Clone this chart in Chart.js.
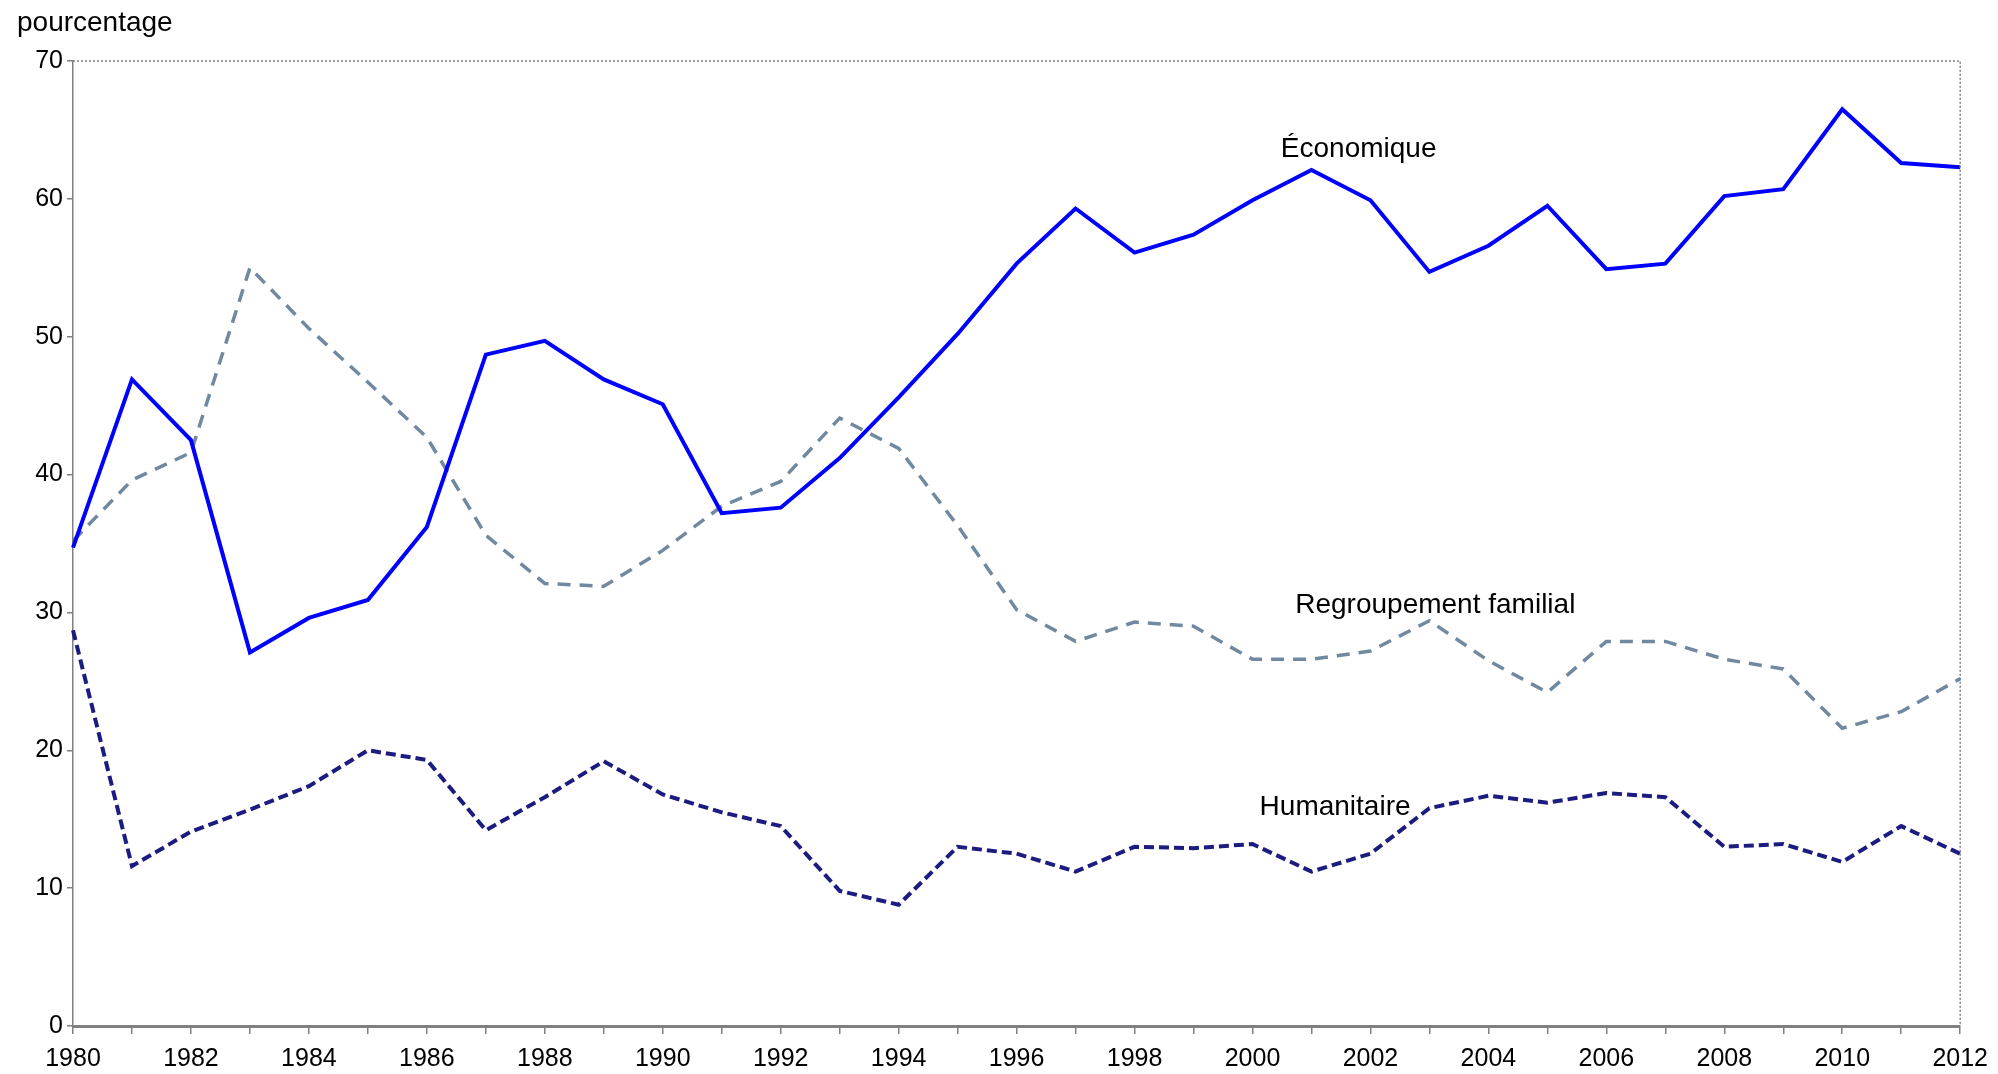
<!DOCTYPE html>
<html>
<head>
    <title>Immigration par catégorie</title>
    <script src="https://cdn.jsdelivr.net/npm/chart.js@4.4.1/dist/chart.umd.min.js"></script>
    <style>
        body { margin: 0; background: #fff; }
        #wrap { width: 1998px; height: 1074px; position: relative; }
    </style>
</head>
<body>
    <div id="wrap"><canvas id="immig-chart"></canvas></div>

    <script>
        // données
        var annees = [];
        for (var a = 1980; a <= 2012; a++) annees.push(String(a));

        var economique = [34.7, 46.9, 42.5, 27.1, 29.6, 30.9, 36.2, 48.7, 49.7, 46.9, 45.1,
            37.2, 37.6, 41.2, 45.6, 50.2, 55.3, 59.3, 56.1, 57.4, 59.9,
            62.1, 59.9, 54.7, 56.6, 59.5, 54.9, 55.3, 60.2, 60.7, 66.5, 62.6, 62.3];

        var regroupement = [35.2, 39.6, 41.6, 55.0, 50.6, 46.7, 42.7, 35.6, 32.1, 31.9, 34.5,
            37.7, 39.5, 44.1, 41.9, 36.3, 30.2, 27.9, 29.3, 29.0, 26.6,
            26.6, 27.2, 29.4, 26.5, 24.2, 27.9, 27.9, 26.6, 25.9, 21.6, 22.8, 25.2];

        var humanitaire = [28.7, 11.6, 14.1, 15.7, 17.4, 20.0, 19.3, 14.2, 16.6, 19.2, 16.8,
            15.5, 14.5, 9.8, 8.8, 13.0, 12.5, 11.2, 13.0, 12.9, 13.2,
            11.2, 12.5, 15.8, 16.7, 16.2, 16.9, 16.6, 13.0, 13.2, 11.9, 14.5, 12.5];

        // étiquettes placées dans le graphique (année, valeur)
        var etiquettes = [
            { texte: 'Économique', x: 2001.8, y: 63.6 },
            { texte: 'Regroupement familial', x: 2003.1, y: 30.55 },
            { texte: 'Humanitaire', x: 2001.4, y: 15.85 }
        ];

        var police = "'Liberation Sans', Arial, sans-serif";

        var cadre = {
            id: 'cadre',
            afterDraw: function(chart) {
                var c = chart.ctx, ar = chart.chartArea;
                c.save();
                c.strokeStyle = '#808080';
                c.lineWidth = 1.5;
                c.setLineDash([2, 2]);
                c.beginPath();
                c.moveTo(ar.left, ar.top);
                c.lineTo(ar.right, ar.top);
                c.lineTo(ar.right, ar.bottom);
                c.stroke();
                c.setLineDash([]);

                c.fillStyle = '#000';
                c.font = '28px ' + police;
                c.textBaseline = 'middle';
                c.textAlign = 'left';
                c.fillText('pourcentage', 17, 23);

                var xs = chart.scales.x, ys = chart.scales.y;
                c.textAlign = 'center';
                etiquettes.forEach(function(e) {
                    var i = e.x - 1980;
                    var x0 = xs.getPixelForValue(Math.floor(i));
                    var x1 = xs.getPixelForValue(Math.floor(i) + 1);
                    var px = x0 + (x1 - x0) * (i - Math.floor(i));
                    c.fillText(e.texte, px, ys.getPixelForValue(e.y));
                });
                c.restore();
            }
        };

        var ctx = document.getElementById('immig-chart').getContext('2d');
        var chart = new Chart(ctx, {
            type: 'line',
            data: {
                labels: annees,
                datasets: [{
                    label: 'Économique',
                    data: economique,
                    borderColor: '#0000FF',
                    borderWidth: 4,
                    pointRadius: 0,
                    tension: 0,
                    fill: false
                }, {
                    label: 'Regroupement familial',
                    data: regroupement,
                    borderColor: '#7088A0',
                    borderWidth: 3.5,
                    borderDash: [13, 9],
                    pointRadius: 0,
                    tension: 0,
                    fill: false
                }, {
                    label: 'Humanitaire',
                    data: humanitaire,
                    borderColor: '#1C1C80',
                    borderWidth: 4,
                    borderDash: [10, 5],
                    pointRadius: 0,
                    tension: 0,
                    fill: false
                }]
            },
            options: {
                responsive: true,
                maintainAspectRatio: false,
                animation: false,
                layout: { padding: { top: 61, right: 36, left: 0, bottom: 0 } },
                plugins: {
                    legend: { display: false },
                    tooltip: { enabled: false }
                },
                scales: {
                    x: {
                        type: 'category',
                        offset: false,
                        afterFit: function(s) { s.height = 48; },
                        grid: {
                            drawOnChartArea: false,
                            drawTicks: true,
                            tickLength: 8,
                            color: '#808080',
                            lineWidth: 1.5
                        },
                        border: { color: '#808080', width: 3 },
                        ticks: {
                            autoSkip: false,
                            maxRotation: 0,
                            padding: 10,
                            color: '#000',
                            font: { family: police, size: 25 },
                            callback: function(v, i) { return i % 2 === 0 ? annees[i] : ''; }
                        }
                    },
                    y: {
                        min: 0,
                        max: 70,
                        afterFit: function(s) { s.width = 73; },
                        grid: {
                            drawOnChartArea: false,
                            drawTicks: true,
                            tickLength: 6,
                            color: '#808080',
                            lineWidth: 1.5
                        },
                        border: { color: '#808080', width: 1.5, dash: [2, 2] },
                        ticks: {
                            stepSize: 10,
                            padding: 4,
                            color: '#000',
                            font: { family: police, size: 25 }
                        }
                    }
                }
            },
            plugins: [cadre]
        });
    </script>
</body>
</html>
